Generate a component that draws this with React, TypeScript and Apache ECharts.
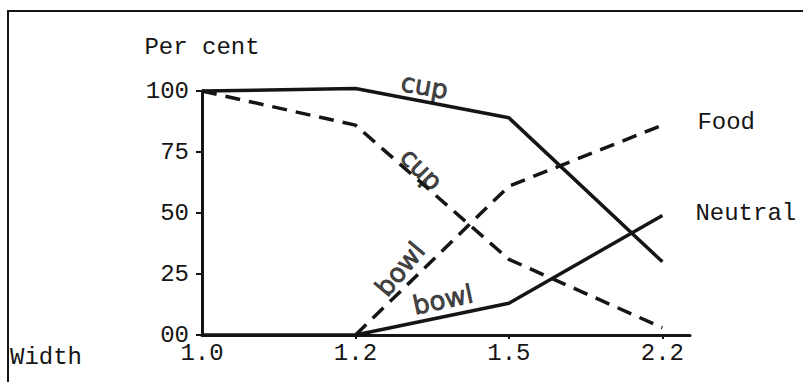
import React, { useEffect, useRef } from "react";
import * as echarts from "echarts";

// Widths (categories along the x axis), placed at equal steps
const widthLabels = ["1.0", "1.2", "1.5", "2.2"];
const widthIndex = [0, 1, 2, 3];
const xAxisMax = 3.18;

// Per cent ticks
const yTicks = [0, 25, 50, 75, 100];

// Neutral (solid) and Food (dashed) series, for cup and bowl
const neutralCup = [100, 101, 89, 30];
const neutralBowl = [0, 0, 13, 49];
const foodCup = [100, 86, 31, 3];
const foodBowl: (number | null)[] = [null, 0, 61, 86];

// In-plot handwritten annotations: [x position, per cent, text, rotation]
const annotationText = ["cup", "cup", "bowl", "bowl"];
const annotationX = [1.45, 1.43, 1.29, 1.57];
const annotationY = [102, 68, 27, 14.5];
const annotationRotate = [-10, -45, 50, 12];

const INK = "#151515";
const MONO = "'Liberation Mono', 'DejaVu Sans Mono', monospace";
const HAND = "'DejaVu Sans', sans-serif";

export default function App() {
  const ref = useRef<HTMLDivElement>(null);

  useEffect(() => {
    if (!ref.current) return;
    const chart = echarts.init(ref.current, undefined, { renderer: "svg" });

    const pair = (arr: (number | null)[]) =>
      arr.map((v, i) => [widthIndex[i], v === null ? "-" : v]);

    const annotations = annotationText.map((t, i) => ({
      value: [annotationX[i], annotationY[i]],
      label: { formatter: t, rotate: annotationRotate[i] },
    }));

    chart.setOption({
      animation: false,
      backgroundColor: "#ffffff",
      grid: { left: 202, top: 91, right: 113, bottom: 47 },
      graphic: [
        {
          type: "rect",
          shape: { x: 8, y: 11, width: 900, height: 500 },
          style: { fill: "none", stroke: INK, lineWidth: 2 },
          silent: true,
        },
        {
          type: "text",
          left: 10,
          top: 345,
          style: {
            text: "Width",
            fill: INK,
            font: `24px ${MONO}`,
          },
        },
      ],
      xAxis: {
        type: "value",
        min: 0,
        max: xAxisMax,
        interval: 1,
        splitLine: { show: false },
        axisLine: { show: true, lineStyle: { color: INK, width: 3 } },
        axisTick: {
          show: true,
          length: 4,
          customValues: [1, 2, 3],
          lineStyle: { color: INK, width: 2 },
        },
        axisLabel: {
          customValues: widthIndex,
          formatter: (v: number) => widthLabels[Math.round(v)] ?? "",
          color: INK,
          fontFamily: MONO,
          fontSize: 24,
          margin: 6,
        },
      },
      yAxis: {
        type: "value",
        min: 0,
        max: 100,
        interval: 25,
        name: "Per cent",
        nameLocation: "end",
        nameGap: 44,
        nameTextStyle: {
          color: INK,
          fontFamily: MONO,
          fontSize: 24,
          align: "center",
          verticalAlign: "middle",
        },
        splitLine: { show: false },
        axisLine: { show: true, lineStyle: { color: INK, width: 3 } },
        axisTick: { show: true, length: 6, lineStyle: { color: INK, width: 2 } },
        axisLabel: {
          customValues: yTicks,
          formatter: (v: number) => (v === 0 ? "00" : String(v)),
          color: INK,
          fontFamily: MONO,
          fontSize: 24,
          margin: 13,
        },
      },
      series: [
        {
          name: "Neutral cup",
          type: "line",
          data: pair(neutralCup),
          symbol: "none",
          clip: false,
          lineStyle: { color: INK, width: 3.5 },
        },
        {
          name: "Neutral bowl",
          type: "line",
          data: pair(neutralBowl),
          symbol: "none",
          clip: false,
          lineStyle: { color: INK, width: 3.5 },
          endLabel: {
            show: true,
            formatter: "Neutral",
            distance: 33,
            offset: [0, -2],
            color: INK,
            fontFamily: MONO,
            fontSize: 24,
          },
        },
        {
          name: "Food cup",
          type: "line",
          data: pair(foodCup),
          symbol: "none",
          clip: false,
          lineStyle: { color: INK, width: 3.5, type: [15, 9] },
        },
        {
          name: "Food bowl",
          type: "line",
          data: pair(foodBowl),
          symbol: "none",
          clip: false,
          lineStyle: { color: INK, width: 3.5, type: [15, 9] },
          endLabel: {
            show: true,
            formatter: "Food",
            distance: 35,
            offset: [0, -3],
            color: INK,
            fontFamily: MONO,
            fontSize: 24,
          },
        },
        {
          name: "annotations",
          type: "scatter",
          data: annotations,
          symbolSize: 1,
          itemStyle: { color: "rgba(0,0,0,0)" },
          clip: false,
          label: {
            show: true,
            position: "inside",
            color: INK,
            fontFamily: HAND,
            fontSize: 26,
            textBorderColor: INK,
            textBorderWidth: 0.8,
          },
        },
      ],
    });

    return () => chart.dispose();
  }, []);

  return (
    <div
      ref={ref}
      style={{ position: "fixed", left: 0, top: 0, width: 803, height: 382 }}
    />
  );
}
